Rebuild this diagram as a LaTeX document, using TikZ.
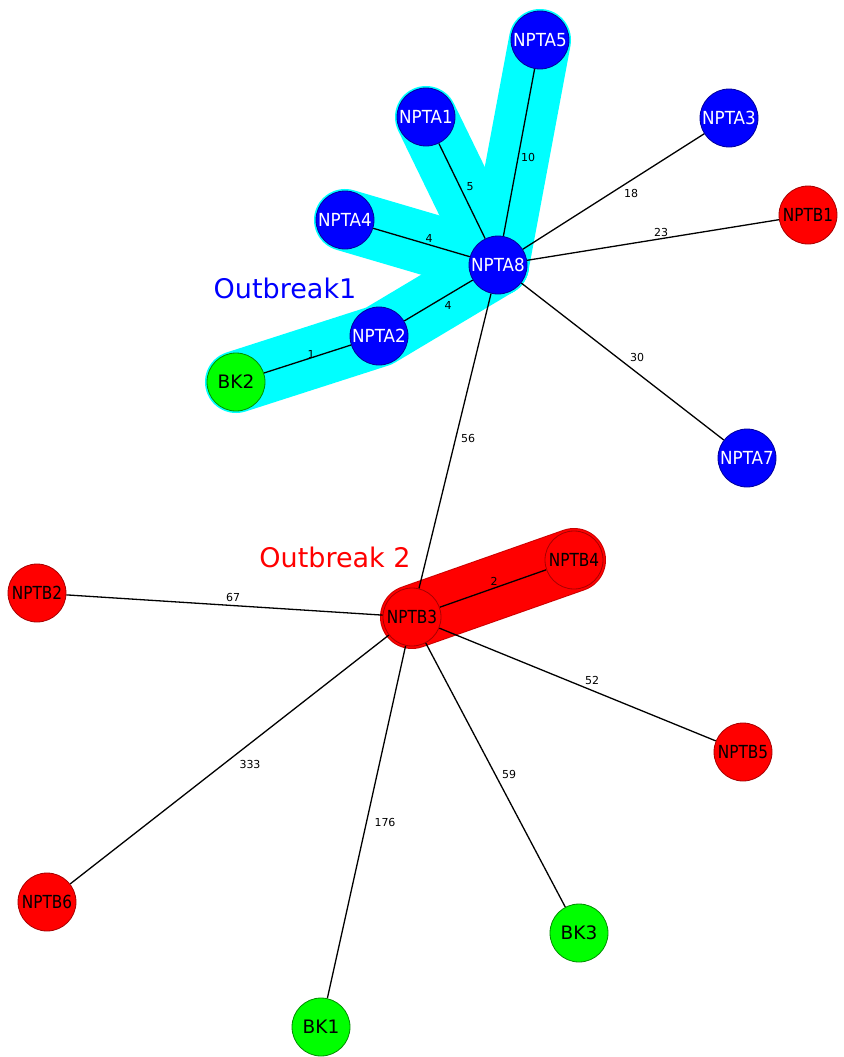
\documentclass[tikz,border=0pt]{standalone}
\usepackage{fontspec}
\setmainfont{DejaVu Sans}
\newfontfamily\afont[FakeStretch=0.93]{DejaVu Sans}
\newfontfamily\bfont[FakeStretch=0.85]{DejaVu Sans}
\definecolor{hcyan}{RGB}{0,255,255}
\definecolor{hblue}{RGB}{0,0,255}
\definecolor{hred}{RGB}{255,0,0}
\definecolor{hgreen}{RGB}{0,255,0}
\pgfdeclarelayer{hl}
\pgfdeclarelayer{edges}
\pgfsetlayers{hl,edges,main}
\begin{document}
\begin{tikzpicture}[x=1pt,y=-1pt,
 vtx/.style={circle,minimum size=58pt,inner sep=0pt,line width=0.8pt},
 anode/.style={vtx,fill=hblue,draw=hblue!60!black,text=white,font=\afont\fontsize{18}{18}\selectfont},
 bnode/.style={vtx,fill=hred,draw=hred!65!black,text=black,font=\bfont\fontsize{18}{18}\selectfont},
 gnode/.style={vtx,fill=hgreen,draw=hgreen!55!black,text=black,font=\fontsize{18.5}{18.5}\selectfont},
 link/.style={draw=black,line width=1.3pt},
 elab/.style={font=\fontsize{11}{11}\selectfont,inner sep=0pt},
 cyanhl/.style={draw=hcyan,line width=62pt,line cap=round,line join=round},
 redhl/.style={draw=hred,line width=62pt,line cap=round},
 redhlborder/.style={draw=hred!80!black,line width=64pt,line cap=round},
 title/.style={font=\fontsize{27}{27}\selectfont,inner sep=0pt}]
\useasboundingbox (0,0) rectangle (843,1057);

% nodes
\node[anode] (A5) at (540,40) {NPTA5};
\node[anode] (A1) at (426,117) {NPTA1};
\node[anode] (A3) at (729,118) {NPTA3};
\node[bnode] (B1) at (808,215) {NPTB1};
\node[anode] (A4) at (345,220) {NPTA4};
\node[anode] (A8) at (498,265) {NPTA8};
\node[anode] (A2) at (379,336) {NPTA2};
\node[gnode] (K2) at (236,382) {BK2};
\node[anode] (A7) at (747,458) {NPTA7};
\node[bnode] (B4) at (574,560) {NPTB4};
\node[bnode] (B2) at (37,593) {NPTB2};
\node[bnode] (B3) at (412,617) {NPTB3};
\node[bnode] (B5) at (743,752) {NPTB5};
\node[bnode] (B6) at (47,902) {NPTB6};
\node[gnode] (K3) at (579,933) {BK3};
\node[gnode] (K1) at (321,1027) {BK1};

% titles
\node[title,text=hblue] (t1) at (285,288) {Outbreak1};
\node[title,text=hred] (t2) at (335,557) {Outbreak 2};

% highlights
\begin{pgfonlayer}{hl}
\draw[cyanhl] (A5.center) -- (A8.center);
\draw[cyanhl] (A1.center) -- (A8.center);
\draw[cyanhl] (A4.center) -- (A8.center);
\draw[cyanhl] (K2.center) -- (A2.center) -- (A8.center);
\draw[redhlborder] (B3.center) -- (B4.center);
\draw[redhl] (B3.center) -- (B4.center);
\end{pgfonlayer}

% edges
\begin{pgfonlayer}{edges}
\draw[link] (A8) -- (A5);
\draw[link] (A8) -- (A1);
\draw[link] (A8) -- (A3);
\draw[link] (A8) -- (B1);
\draw[link] (A8) -- (A4);
\draw[link] (A8) -- (A2);
\draw[link] (A2) -- (K2);
\draw[link] (A8) -- (A7);
\draw[link] (A8) -- (B3);
\draw[link] (B3) -- (B4);
\draw[link] (B3) -- (B2);
\draw[link] (B3) -- (B5);
\draw[link] (B3) -- (B6);
\draw[link] (B3) -- (K3);
\draw[link] (B3) -- (K1);
\end{pgfonlayer}

% edge labels
\node[elab] (l10) at (528,157) {10};
\node[elab] (l5) at (470,187) {5};
\node[elab] (l18) at (631,193) {18};
\node[elab] (l23) at (661,232) {23};
\node[elab] (l4a) at (429,238) {4};
\node[elab] (l4b) at (448,305) {4};
\node[elab] (l1) at (311,354) {1};
\node[elab] (l30) at (637,357) {30};
\node[elab] (l56) at (468,438) {56};
\node[elab] (l2) at (494,581) {2};
\node[elab] (l67) at (233,597) {67};
\node[elab] (l52) at (592,680) {52};
\node[elab] (l333) at (250,764) {333};
\node[elab] (l59) at (509,774) {59};
\node[elab] (l176) at (385,822) {176};
\end{tikzpicture}
\end{document}
